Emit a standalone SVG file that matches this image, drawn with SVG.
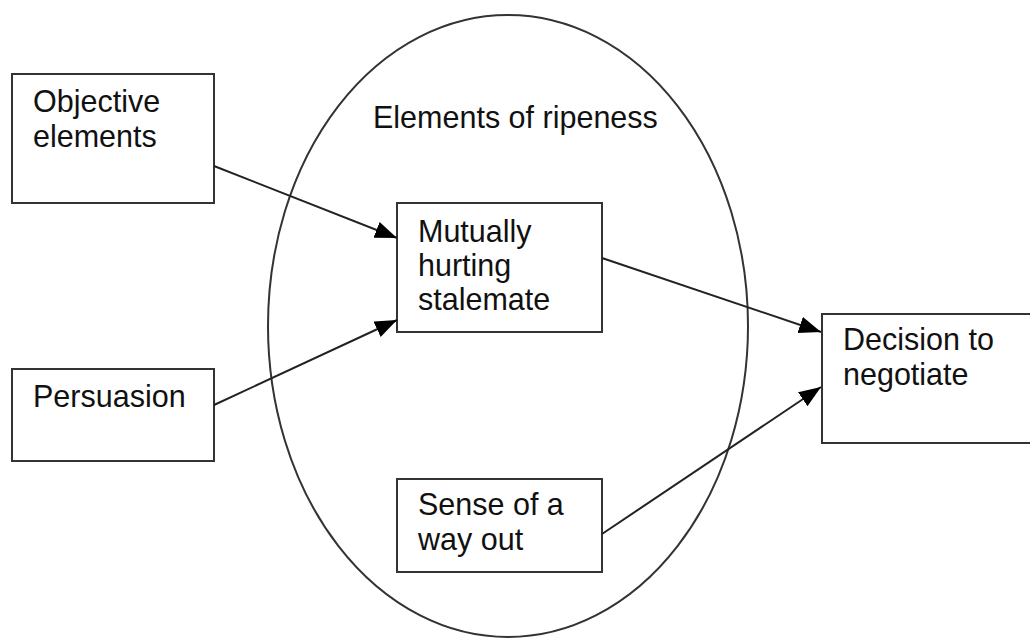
<svg xmlns="http://www.w3.org/2000/svg" width="1030" height="638" viewBox="0 0 1030 638">
<style>
.box{fill:#fff;stroke:#333;stroke-width:2}
.lbl{font-family:"Liberation Sans",Arial,sans-serif;font-size:30.5px;fill:#111}
.conn{stroke:#222;stroke-width:2;fill:none;marker-end:url(#arr)}
</style>
<defs>
<marker id="arr" markerUnits="userSpaceOnUse" markerWidth="24" markerHeight="20" refX="22" refY="8.5" orient="auto">
<path d="M0,0 L22,8.5 L0,17 z" fill="#000"/>
</marker>
</defs>
<rect width="1030" height="638" fill="#fff"/>
<g id="ripeness">
<ellipse cx="508" cy="326" rx="240" ry="311" fill="none" stroke="#333" stroke-width="2"/>
<text class="lbl" x="373" y="128">Elements of ripeness</text>
</g>
<g id="objective">
<rect class="box" x="12" y="74" width="202" height="129"/>
<text class="lbl" x="33" y="112">Objective</text>
<text class="lbl" x="33" y="147">elements</text>
</g>
<g id="persuasion">
<rect class="box" x="12" y="369" width="202" height="92"/>
<text class="lbl" x="33" y="407">Persuasion</text>
</g>
<g id="mhs">
<rect class="box" x="397" y="203" width="205" height="129"/>
<text class="lbl" x="418" y="242">Mutually</text>
<text class="lbl" x="418" y="276">hurting</text>
<text class="lbl" x="418" y="310">stalemate</text>
</g>
<g id="wayout">
<rect class="box" x="397" y="479" width="205" height="93"/>
<text class="lbl" x="418" y="515">Sense of a</text>
<text class="lbl" x="418" y="550">way out</text>
</g>
<g id="decision">
<rect class="box" x="822" y="314" width="212" height="129"/>
<text class="lbl" x="843" y="350">Decision to</text>
<text class="lbl" x="843" y="385">negotiate</text>
</g>
<g id="connectors">
<line class="conn" x1="214" y1="166" x2="397" y2="238"/>
<line class="conn" x1="214" y1="405" x2="397" y2="320"/>
<line class="conn" x1="602" y1="258" x2="821" y2="332"/>
<line class="conn" x1="602" y1="534" x2="821" y2="387"/>
</g>
</svg>
